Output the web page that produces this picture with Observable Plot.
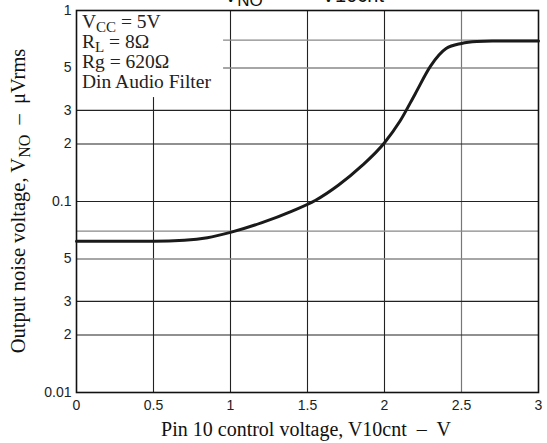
<!DOCTYPE html>
<html><head><meta charset="utf-8">
<script src="https://cdn.jsdelivr.net/npm/d3@7"></script>
<script src="https://cdn.jsdelivr.net/npm/@observablehq/plot@0.6"></script>
<style>
body{margin:0;background:#fff}
#chart svg{overflow:visible;display:block}
</style>
</head><body><div id="chart"></div>
<script>
// Pin 10 control voltage (V) and output noise voltage
const controlVoltage = [0, 0.5, 0.7, 0.85, 1.0, 1.2, 1.4, 1.55, 1.7, 1.85, 2.0, 2.1, 2.2, 2.3, 2.4, 2.5, 2.6, 2.7, 3.0];
const noiseVoltage   = [0.062, 0.062, 0.0627, 0.0646, 0.0689, 0.0773, 0.0891, 0.1012, 0.1216, 0.1531, 0.2032, 0.263, 0.367, 0.513, 0.632, 0.672, 0.688, 0.692, 0.692];

const xTicks = [0, 0.5, 1, 1.5, 2, 2.5, 3];
const xTickLabels = ["0", "0.5", "1", "1.5", "2", "2.5", "3"];
const yTicks = [1, 0.7, 0.5, 0.3, 0.2, 0.1, 0.07, 0.05, 0.03, 0.02, 0.01];
const yTickLabels = ["1", "7", "5", "3", "2", "0.1", "7", "5", "3", "2", "0.01"];

const xGridDark = [0.5, 1, 1.5, 2];
const xGridLight = [2.5];
const yGridDark = [0.3, 0.2, 0.1, 0.03, 0.02];
const yGridLight = [0.7, 0.5, 0.07, 0.05];

// conditions box (data extent it covers)
const boxX = [0, 0.955];
const boxY = [0.35, 1];
const noteLines = [
  ["V", "CC", " = 5V"],
  ["R", "L", " = 8Ω"],
  ["Rg = 620Ω", "", ""],
  ["Din Audio Filter", "", ""]
];

const title = ["V", "NO", "    —   V10cnt"];
const xLabel = "Pin 10 control voltage, V10cnt  –  V";
const yLabel = ["Output noise voltage, V", "NO", "  –  μVrms"];

const data = controlVoltage.map((x, i) => ({x, y: noiseVoltage[i]}));
const xFmt = new Map(xTicks.map((t, i) => [t, xTickLabels[i]]));
const yFmt = new Map(yTicks.map((t, i) => [t, yTickLabels[i]]));

const plot = Plot.plot({
  width: 547, height: 443,
  marginLeft: 76, marginRight: 9, marginTop: 10, marginBottom: 51,
  style: {fontFamily: "'Liberation Sans', Arial, sans-serif", fontSize: "14px", color: "#222", background: "#fff"},
  x: {domain: [0, 3], ticks: xTicks, tickSize: 0, tickPadding: 8, tickFormat: d => xFmt.get(d), label: null},
  y: {type: "log", domain: [0.01, 1], ticks: yTicks, tickSize: 0, tickPadding: 5, tickFormat: d => yFmt.get(d), label: null},
  marks: [
    Plot.ruleX(xGridDark, {stroke: "#222", strokeWidth: 1.1}),
    Plot.ruleX(xGridLight, {stroke: "#777", strokeWidth: 1.2}),
    Plot.ruleY(yGridDark, {stroke: "#222", strokeWidth: 1.1}),
    Plot.ruleY(yGridLight, {stroke: "#888", strokeWidth: 1.4}),
    Plot.rect([0], {x1: () => boxX[0], x2: () => boxX[1], y1: () => boxY[0], y2: () => boxY[1], fill: "white"}),
    Plot.frame({stroke: "#111", strokeWidth: 1.6}),
    Plot.line(data, {x: "x", y: "y", curve: "monotone-x", stroke: "#1a1a1a", strokeWidth: 3})
  ]
});
document.getElementById("chart").append(plot);

const svg = d3.select(plot);
const serif = "'Liberation Serif', 'Times New Roman', serif";

function subText(sel, parts, subSize, shift) {
  sel.append("tspan").text(parts[0]);
  if (parts[1]) {
    sel.append("tspan").attr("dy", shift).attr("font-size", subSize).text(parts[1]);
    sel.append("tspan").attr("dy", -shift).text(parts[2]);
  } else if (parts[2]) {
    sel.append("tspan").text(parts[2]);
  }
}

// conditions note
noteLines.forEach((parts, i) => {
  const t = svg.append("text")
    .attr("x", 82).attr("y", 28 + i * 20).attr("text-anchor", "start")
    .attr("font-family", serif).attr("font-size", 19.5).attr("fill", "#222");
  subText(t, parts, 15, 4);
});

// title (cut off at top of picture)
const tt = svg.append("text")
  .attr("x", 224).attr("y", 2).attr("text-anchor", "start")
  .attr("font-family", "'Liberation Sans', Arial, sans-serif").attr("font-size", 20).attr("fill", "#111");
subText(tt, title, 17, 4);

// x label
svg.append("text")
  .attr("x", 306).attr("y", 436).attr("text-anchor", "middle")
  .attr("font-family", serif).attr("font-size", 20).attr("fill", "#111")
  .text(xLabel);

// y label
const yl = svg.append("text")
  .attr("transform", "translate(25,201) rotate(-90)").attr("text-anchor", "middle")
  .attr("font-family", serif).attr("font-size", 20.5).attr("fill", "#111");
subText(yl, yLabel, 16, 5);
</script>
</body></html>
